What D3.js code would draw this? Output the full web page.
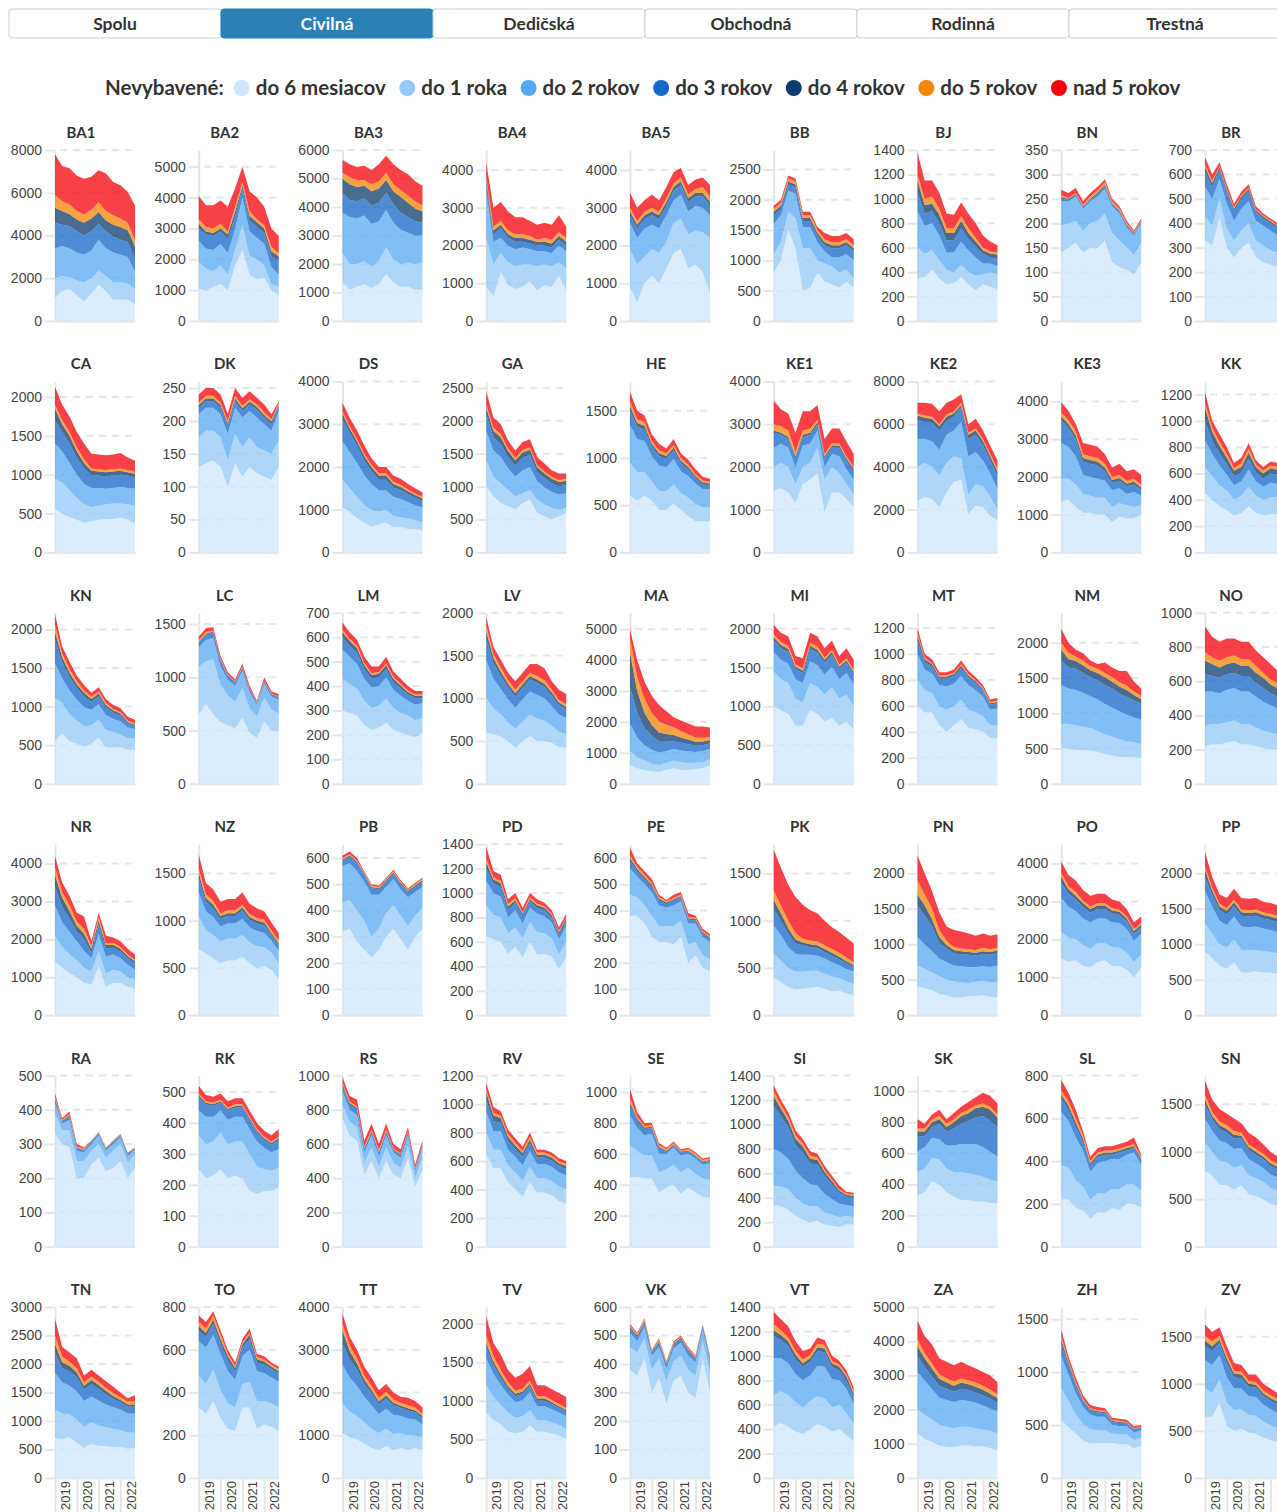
<!DOCTYPE html>
<meta charset="utf-8">
<style>
body { margin: 0; background: #fff; }
svg { display: block; font-family: Lato, "Noto Sans", sans-serif; }
.axis .tick text { fill: #444; font-size: 14px; }
.xaxis .tick text { font-size: 13px; }
.axis path, .axis line { stroke: #e6e6e6; stroke-width: 2px; }
.grid line { stroke: #e6e6e6; stroke-width: 2px; stroke-dasharray: 7,6; }
.title { font-weight: bold; font-size: 15px; fill: #333; text-anchor: middle; }
.tab text { font-weight: bold; font-size: 17.5px; text-anchor: middle; }
</style>
<svg width="1277" height="1512"></svg>
<script src="https://d3js.org/d3.v7.min.js"></script>
<script>

var tabs = ["Spolu", "Civilná", "Dedičská", "Obchodná", "Rodinná", "Trestná"];
var activeTab = "Civilná";

var layerNames = ["do 6 mesiacov", "do 1 roka", "do 2 rokov", "do 3 rokov", "do 4 rokov", "do 5 rokov", "nad 5 rokov"];
var layerColors = ["#cfe6fb", "#93c8f7", "#56a8f2", "#1466c8", "#0d3b6c", "#f58400", "#f5000a"];

var months = ["2019-01", "2019-05", "2019-09", "2020-01", "2020-05", "2020-09",
              "2021-01", "2021-05", "2021-09", "2022-01", "2022-05", "2022-09"];

var courts = ["BA1","BA2","BA3","BA4","BA5","BB","BJ","BN","BR",
              "CA","DK","DS","GA","HE","KE1","KE2","KE3","KK",
              "KN","LC","LM","LV","MA","MI","MT","NM","NO",
              "NR","NZ","PB","PD","PE","PK","PN","PO","PP",
              "RA","RK","RS","RV","SE","SI","SK","SL","SN",
              "TN","TO","TT","TV","VK","VT","ZA","ZH","ZV"];

// top of each panel's y axis
var yTop = [8000,5540,6000,4530,4530,2820,1400,350,700,
            2200,260,4000,2600,1810,4000,8000,4530,1300,
            2215,1606,700,2000,5530,2206,1317,2425,1000,
            4509,1810,653,1400,653,1810,2409,4509,2409,
            500,553,1000,1200,1106,1400,1100,800,1803,
            3000,800,4000,2215,600,1400,5000,1616,1816];

// pending cases by age, one row per court, one value per month above
var do6m = [
  [1100,1400,1500,1200,900,1300,1700,1400,1000,1000,1000,800],
  [1050,1000,1100,1200,1000,1800,2300,1500,1350,1400,1000,850],
  [1350,1100,1200,1300,1150,1300,1650,1350,1200,1200,1100,1100],
  [900,650,1300,950,850,900,1050,800,950,900,1200,800],
  [900,500,1000,1200,1000,1400,1800,1900,1400,1500,1300,750],
  [800,1000,1500,1200,500,550,800,650,600,550,650,550],
  [350,360,420,350,300,310,360,300,250,300,280,260],
  [140,150,160,140,150,150,165,120,110,105,95,120],
  [330,310,420,300,260,300,320,260,240,230,220,210],
  [560,500,450,420,380,400,420,430,430,450,420,370],
  [130,135,140,130,100,135,115,130,120,115,110,130],
  [1050,950,800,700,600,650,700,580,600,550,550,520],
  [1000,850,750,700,650,750,800,600,550,500,550,600],
  [600,550,600,550,450,450,520,450,380,330,330,330],
  [1450,1500,1400,1150,1600,1700,1850,950,1400,1400,1250,1050],
  [2400,2600,2500,2100,2800,3300,3400,1800,2200,2100,1700,1500],
  [1350,1400,1200,1050,1050,1000,1000,800,950,900,900,1000],
  [450,400,350,320,280,300,350,300,280,290,290,280],
  [560,650,550,520,480,520,600,470,470,470,440,440],
  [650,750,650,580,550,520,620,480,430,580,500,490],
  [300,290,280,240,220,230,250,220,210,200,190,210],
  [600,580,550,500,420,500,560,500,500,480,430,420],
  [600,500,450,400,380,450,500,450,450,480,500,600],
  [1000,950,900,750,750,950,900,800,850,750,800,700],
  [600,550,550,450,400,450,500,430,420,400,350,350],
  [500,500,480,480,470,450,420,400,380,380,380,360],
  [220,230,230,240,250,230,230,220,210,200,200,200],
  [1400,1250,1100,1000,850,800,1300,750,850,850,750,700],
  [700,650,600,550,580,580,620,550,500,520,480,380],
  [320,330,280,250,220,250,300,330,290,250,300,330],
  [650,620,600,500,560,470,600,500,500,480,380,470],
  [380,380,350,300,280,280,270,300,200,230,180,170],
  [400,350,300,270,280,290,300,280,250,260,230,210],
  [400,380,350,300,280,250,250,270,270,280,260,250],
  [1500,1400,1450,1300,1250,1400,1450,1300,1300,1200,1000,1250],
  [900,800,700,650,750,600,600,620,600,600,580,570],
  [330,300,290,200,200,240,260,220,230,250,200,230],
  [250,220,230,250,220,230,220,180,170,180,180,190],
  [750,650,620,420,500,400,500,420,400,520,350,450],
  [650,550,550,450,400,350,450,380,380,360,320,300],
  [450,450,440,440,350,380,400,340,380,350,320,320],
  [340,330,300,250,220,200,210,180,170,160,180,180],
  [330,350,420,400,350,320,300,300,290,290,280,280],
  [220,220,180,170,130,160,160,180,170,200,200,180],
  [800,750,650,650,600,650,550,530,500,450,430,400],
  [700,680,720,620,520,600,560,560,540,540,520,520],
  [330,300,360,280,230,220,330,330,230,250,240,220],
  [1050,950,900,800,700,650,750,650,700,650,700,650],
  [850,750,700,600,580,600,680,600,600,580,550,500],
  [380,360,420,300,350,260,340,360,300,280,420,300],
  [420,450,420,380,360,400,440,420,380,400,350,300],
  [1300,1150,1050,950,900,900,950,950,920,920,880,800],
  [550,480,420,350,330,330,330,330,320,320,280,300],
  [650,650,800,550,500,520,480,470,430,400,380,370]
];

var do1r = [
  [900,700,550,700,900,700,650,700,800,800,750,700],
  [850,700,500,600,500,500,800,600,650,400,200,250],
  [1050,900,800,800,750,800,950,800,800,850,900,950],
  [1300,850,500,600,600,600,450,650,550,550,350,600],
  [1000,1000,700,700,800,700,800,800,900,900,1050,1450],
  [300,300,300,500,700,650,200,300,300,250,200,150],
  [250,190,160,150,120,90,100,100,120,80,120,120],
  [55,50,45,45,50,55,55,60,55,45,40,40],
  [100,80,80,80,70,70,80,70,70,60,60,60],
  [390,400,350,280,240,180,180,190,200,180,200,230],
  [45,50,45,45,40,45,45,45,40,40,40,40],
  [650,550,500,400,400,300,300,270,220,250,200,180],
  [400,300,300,250,200,150,150,200,180,180,100,80],
  [350,300,250,200,200,200,200,180,200,180,150,150],
  [550,600,600,450,400,400,600,750,600,450,350,300],
  [1600,1600,1500,1500,1400,1200,1000,900,1000,1000,900,500],
  [600,550,600,500,450,450,450,400,350,350,300,250],
  [200,180,160,150,120,130,150,130,120,130,130,120],
  [550,400,350,300,270,240,230,230,200,170,150,150],
  [450,400,520,350,280,250,280,230,200,230,200,170],
  [130,120,110,100,90,90,100,90,80,80,70,60],
  [400,300,260,220,220,230,250,260,240,200,180,160],
  [450,350,300,250,230,230,250,250,220,200,200,200],
  [450,400,400,350,300,350,350,350,400,350,350,300],
  [200,170,150,150,170,150,150,140,130,120,100,100],
  [350,350,350,330,320,300,280,270,250,220,210,200],
  [120,120,120,120,120,120,120,110,100,100,90,90],
  [700,550,500,450,400,350,400,350,350,300,250,250],
  [350,250,250,230,230,230,230,220,230,200,180,170],
  [110,110,120,110,80,80,90,90,90,90,80,80],
  [250,200,200,170,160,160,160,180,170,150,120,130],
  [80,70,70,80,60,60,70,60,70,50,50,45],
  [250,230,200,190,180,180,170,160,160,130,130,120],
  [300,270,250,250,220,230,210,180,200,200,200,210],
  [700,650,550,550,500,500,450,500,480,450,400,350],
  [400,350,300,300,320,320,320,300,300,290,290,280],
  [60,40,50,50,50,40,40,40,50,50,45,40],
  [110,110,110,120,110,110,120,120,90,70,65,65],
  [80,80,80,70,80,70,80,70,60,70,50,70],
  [150,130,130,120,120,110,110,100,100,100,100,100],
  [200,170,150,150,130,120,130,140,130,120,120,110],
  [160,160,170,150,130,130,120,100,90,80,70,60],
  [150,150,150,160,150,160,180,170,170,160,150,140],
  [160,150,130,110,90,90,90,90,100,90,90,80],
  [300,250,250,240,230,210,200,190,180,170,160,150],
  [500,450,400,400,380,380,360,330,320,300,280,280],
  [150,140,150,130,120,110,110,120,130,110,110,110],
  [700,600,550,500,450,400,400,380,350,350,300,300],
  [350,300,250,250,200,200,200,150,150,140,140,130],
  [80,80,70,80,70,80,70,70,80,80,60,70],
  [260,260,260,240,220,230,230,230,200,200,180,140],
  [700,700,650,600,600,550,550,550,530,500,500,500],
  [300,250,180,160,130,120,120,90,90,90,80,80],
  [300,250,250,250,220,210,190,190,170,160,150,150]
];

var do2r = [
  [1400,1400,1350,1300,1300,1300,1450,1300,1400,1300,1250,800],
  [700,650,700,700,700,700,900,800,700,700,550,400],
  [1400,1650,1600,1600,1500,1400,1300,1300,1200,1050,1000,950],
  [1200,600,400,450,450,450,400,400,350,350,450,450],
  [700,700,750,650,650,700,600,650,600,650,650,600],
  [500,450,350,400,350,350,300,200,150,250,250,300],
  [300,230,220,200,140,160,190,180,150,90,70,70],
  [50,45,50,45,45,50,50,55,55,42,40,40],
  [120,110,80,100,80,90,90,80,80,80,70,65],
  [450,400,350,300,260,250,230,200,200,210,210,220],
  [35,35,35,35,40,40,45,40,45,40,35,45],
  [900,850,800,700,600,500,450,450,430,380,350,350],
  [450,400,400,330,300,350,350,280,260,240,230,220],
  [400,350,330,270,270,250,270,230,230,220,190,190],
  [450,450,450,400,500,450,400,300,300,400,350,350],
  [1300,1100,1200,1200,1300,1200,1700,1800,1500,1200,1100,950],
  [950,850,750,500,500,500,450,450,400,300,400,250],
  [200,170,150,120,110,110,130,110,100,110,100,100],
  [450,320,310,270,240,200,200,190,170,170,140,120],
  [180,200,200,170,150,150,160,150,110,130,120,130],
  [120,110,100,90,85,80,85,75,70,60,65,60],
  [450,350,300,270,250,260,270,280,260,230,200,190],
  [900,650,500,450,400,380,380,380,380,350,350,330],
  [250,250,250,250,250,280,280,260,260,250,280,280],
  [200,160,150,160,180,170,180,190,170,150,120,130],
  [550,500,500,480,450,450,430,410,400,380,350,350],
  [200,190,180,190,190,190,190,180,170,160,150,150],
  [800,650,600,500,450,350,450,450,400,350,330,250],
  [250,200,190,160,160,160,170,160,160,150,130,130],
  [140,140,150,150,160,130,100,100,100,110,90,80],
  [200,180,170,130,140,120,120,150,140,130,120,130],
  [100,80,80,90,80,70,80,75,80,70,70,65],
  [300,270,220,190,180,170,160,160,150,140,130,130],
  [400,350,300,250,250,220,230,230,210,210,220,240],
  [900,800,750,700,700,650,650,650,650,620,570,550],
  [450,380,330,320,320,330,320,330,320,310,300,300],
  [30,20,30,30,25,20,25,20,20,20,20,15],
  [80,90,80,70,80,80,80,80,80,70,60,60],
  [80,70,70,60,70,60,70,60,60,60,40,60],
  [150,130,130,110,110,110,110,100,100,100,100,100],
  [200,150,130,140,120,100,110,110,90,100,90,110],
  [300,280,250,220,210,180,170,150,130,110,90,90],
  [130,140,130,130,150,170,180,190,200,190,180,160],
  [250,220,200,170,130,140,150,140,140,140,150,120],
  [250,220,220,200,200,180,170,160,150,140,140,130],
  [650,550,500,500,450,450,440,400,380,360,330,330],
  [160,170,160,170,150,130,130,150,140,130,120,120],
  [900,800,700,600,550,450,470,450,400,390,370,300],
  [350,300,250,230,200,210,230,180,180,170,160,170],
  [50,40,40,50,40,45,45,45,50,45,40,40],
  [300,270,260,230,220,210,250,260,230,200,200,160],
  [1100,1000,900,800,780,770,780,750,750,700,650,650],
  [300,250,200,160,140,130,130,80,80,80,70,70],
  [300,300,250,270,230,220,200,200,180,170,160,160]
];

var do3r = [
  [1200,1000,1050,1000,900,900,750,800,750,700,700,650],
  [400,450,450,400,450,400,300,350,350,350,350,450],
  [700,600,600,600,650,650,600,650,600,550,500,450],
  [200,200,250,200,200,150,150,150,150,150,150,150],
  [200,250,250,250,250,250,250,250,250,250,300,250],
  [150,100,100,100,100,100,100,100,150,150,150,150],
  [150,100,100,100,100,100,110,90,90,80,50,60],
  [5,3,3,3,3,5,6,4,4,3,3,2],
  [60,50,40,45,40,40,40,35,30,30,30,30],
  [300,250,250,220,200,170,160,160,160,160,160,140],
  [10,10,10,10,12,10,10,10,12,10,10,8],
  [500,450,400,350,300,250,250,220,210,180,180,150],
  [250,200,200,170,170,190,180,140,140,130,120,130],
  [150,130,120,100,100,90,90,80,70,60,50,40],
  [350,200,200,200,200,200,150,200,150,200,200,200],
  [900,800,850,900,650,650,700,800,800,700,600,650],
  [600,500,450,350,350,350,250,200,200,200,200,150],
  [150,100,90,80,70,70,80,70,60,70,70,60],
  [300,200,170,150,140,100,100,100,80,70,50,40],
  [40,50,50,50,30,30,30,25,15,20,20,20],
  [50,45,45,40,35,35,35,30,30,25,25,20],
  [250,180,150,140,130,130,140,140,130,120,110,100],
  [1200,800,550,450,350,300,250,250,230,200,200,180],
  [150,150,150,130,130,160,160,150,150,130,130,130],
  [100,60,50,50,60,60,60,60,55,50,40,40],
  [350,300,300,280,270,270,270,270,250,250,240,220],
  [100,90,90,90,90,90,90,80,80,70,70,70],
  [500,400,350,250,300,150,250,200,180,180,170,160],
  [150,100,90,80,80,80,90,80,80,80,60,60],
  [20,25,30,25,25,20,20,20,20,20,20,20],
  [100,80,80,60,60,60,50,50,50,40,40,40],
  [30,20,20,20,18,15,18,15,15,12,12,12],
  [170,150,140,110,100,80,80,70,70,60,60,50],
  [450,400,350,220,190,170,170,170,160,170,170,170],
  [400,350,300,300,250,250,250,230,220,200,180,170],
  [200,170,150,150,150,150,150,150,140,140,140,140],
  [10,5,10,8,6,5,5,5,5,5,5,2],
  [45,40,35,25,30,30,30,30,30,25,25,30],
  [30,30,30,20,20,20,20,15,15,15,10,10],
  [80,70,60,60,55,60,55,45,45,45,45,45],
  [60,40,40,35,35,15,15,20,15,15,15,15],
  [350,300,260,210,210,170,170,150,120,90,70,70],
  [100,70,70,100,90,110,130,150,170,200,200,190],
  [60,50,50,40,30,30,30,20,30,20,20,20],
  [150,120,120,110,110,100,100,90,90,90,80,80],
  [350,250,250,250,200,220,200,180,150,130,120,120],
  [50,50,50,50,50,40,40,50,40,40,40,40],
  [500,420,380,300,280,220,240,220,190,190,170,150],
  [150,120,100,80,80,80,80,70,70,70,60,60],
  [15,15,15,10,15,12,12,12,15,12,10,10],
  [180,150,140,120,110,110,120,120,100,80,70,60],
  [450,400,370,350,330,300,330,320,300,300,280,250],
  [120,80,70,50,40,40,35,30,30,30,30,25],
  [150,150,130,150,120,110,100,100,90,90,90,80]
];

var do4r = [
  [700,650,550,550,600,600,550,500,550,600,550,550],
  [150,100,100,100,150,150,100,150,150,150,150,150],
  [500,550,500,450,500,500,450,450,550,500,450,400],
  [100,100,100,100,100,100,100,100,100,100,100,100],
  [100,100,100,100,100,100,100,100,100,100,100,100],
  [50,50,50,50,50,50,50,50,50,50,50,50],
  [100,70,60,70,60,60,60,50,40,30,30,35],
  [3,2,2,2,2,3,3,2,2,2,2,2],
  [20,15,10,10,10,10,10,8,8,8,8,7],
  [150,100,100,80,70,50,50,50,50,50,40,50],
  [4,4,4,4,4,4,4,4,4,4,4,2],
  [150,100,100,100,100,100,100,80,70,70,60,60],
  [100,100,100,90,80,80,80,80,70,70,70,60],
  [50,40,40,30,30,30,30,30,25,20,20,20],
  [50,50,50,50,50,50,50,50,50,50,50,50],
  [200,200,200,200,200,150,100,200,200,200,200,200],
  [100,100,100,100,100,100,100,70,70,70,70,70],
  [100,70,60,50,40,40,50,40,40,40,40,40],
  [100,70,60,50,50,40,40,30,30,30,20,15],
  [10,10,10,10,10,5,5,5,5,5,5,5],
  [20,20,20,15,15,15,15,15,12,10,10,10],
  [80,60,50,40,40,40,40,40,40,40,30,30],
  [1100,700,500,350,300,250,200,170,150,130,120,100],
  [40,40,40,30,30,40,40,40,40,30,30,30],
  [40,20,20,15,15,15,20,15,15,10,10,10],
  [150,120,110,110,100,100,110,100,100,100,80,70],
  [80,70,60,60,60,60,60,60,60,50,50,50],
  [300,250,200,150,150,100,100,100,80,70,60,60],
  [50,40,40,30,30,30,30,30,30,30,20,20],
  [5,5,5,5,5,5,5,5,5,5,5,5],
  [50,30,30,30,20,20,20,20,20,20,20,20],
  [10,8,8,7,7,5,5,5,5,5,5,5],
  [100,80,60,40,30,30,30,30,30,30,20,20],
  [150,150,100,80,50,50,40,40,40,40,40,40],
  [150,120,100,100,100,90,90,80,80,80,70,70],
  [100,60,50,50,50,50,50,50,50,50,50,50],
  [3,2,3,2,2,2,2,2,2,2,2,1],
  [5,5,5,5,5,5,5,5,5,5,5,5],
  [10,10,10,5,5,5,5,5,5,5,5,5],
  [50,40,30,30,25,25,25,20,20,20,20,20],
  [20,15,10,10,10,5,5,5,5,5,5,5],
  [80,60,50,50,50,40,40,30,25,20,15,15],
  [30,30,30,30,30,40,50,50,60,60,70,60],
  [20,20,20,15,10,10,10,10,10,10,10,10],
  [50,40,40,40,40,30,30,30,30,30,30,30],
  [150,100,100,80,70,70,70,60,50,40,40,40],
  [20,20,20,20,20,15,15,20,15,15,10,10],
  [300,200,150,100,80,70,70,60,50,50,40,50],
  [50,40,40,30,30,30,30,30,30,20,20,20],
  [5,5,5,4,5,4,5,5,5,5,4,4],
  [50,40,40,40,30,30,30,30,30,30,30,30],
  [300,250,230,200,190,180,180,170,170,160,150,140],
  [40,30,20,15,10,10,10,10,10,5,5,5],
  [60,50,40,50,40,40,30,30,30,30,30,30]
];

var do5r = [
  [600,450,450,400,400,400,450,450,450,400,350,300],
  [150,150,150,150,100,150,100,150,100,100,150,100],
  [200,250,250,200,250,250,250,250,250,250,250,200],
  [100,100,100,100,100,100,100,50,100,100,100,100],
  [100,100,100,100,100,100,100,100,100,100,150,150],
  [50,50,50,50,50,50,50,50,50,50,50,50],
  [50,50,60,50,40,40,40,40,30,20,20,15],
  [5,2,2,3,5,5,5,4,4,3,2,2],
  [10,8,5,5,5,5,5,4,4,4,4,3],
  [50,50,50,50,50,30,30,30,30,30,30,30],
  [4,4,4,4,4,4,4,4,4,4,3,2],
  [50,50,50,50,50,50,50,50,50,40,40,40],
  [50,50,50,40,40,40,40,30,30,30,30,30],
  [50,40,40,30,30,30,30,30,25,20,20,20],
  [150,150,150,100,100,100,50,50,50,50,50,50],
  [100,100,100,100,100,100,100,100,100,100,100,100],
  [100,100,100,100,100,100,100,80,80,80,80,80],
  [40,30,30,30,20,30,30,20,20,20,20,20],
  [100,50,50,40,30,30,30,30,20,20,20,15],
  [20,15,10,10,10,5,10,5,5,5,5,5],
  [10,10,10,10,8,8,8,8,8,7,6,6],
  [70,50,50,40,40,40,40,40,40,30,30,30],
  [450,450,450,400,350,300,250,200,170,140,120,100],
  [40,40,40,30,30,40,40,30,30,30,30,30],
  [20,10,10,10,10,10,10,10,10,10,10,10],
  [100,90,60,70,60,60,60,60,60,60,50,50],
  [50,40,40,40,40,40,40,40,30,30,30,30],
  [200,150,150,120,120,80,80,50,50,50,40,40],
  [50,40,40,30,30,30,30,30,30,30,30,30],
  [5,5,5,5,5,5,5,5,5,5,5,5],
  [30,20,20,20,20,15,15,15,10,10,10,10],
  [10,8,8,8,5,5,5,5,5,5,5,5],
  [100,80,80,70,40,40,40,40,40,40,40,30],
  [200,150,150,100,60,40,40,40,40,50,40,40],
  [100,80,100,70,70,60,60,60,50,50,50,50],
  [50,40,40,40,40,40,40,40,40,40,40,40],
  [5,3,5,3,3,2,2,2,2,2,2,1],
  [5,5,5,5,5,5,5,5,5,5,5,5],
  [10,10,10,10,10,10,10,5,5,5,5,5],
  [20,20,20,20,20,15,20,15,15,15,15,15],
  [30,15,10,10,10,10,10,5,10,10,10,10],
  [40,30,30,30,25,25,20,20,15,10,10,10],
  [20,20,20,20,20,20,20,20,20,20,20,20],
  [20,20,20,15,10,10,10,10,10,10,10,10],
  [50,40,40,40,40,30,30,30,30,30,30,30],
  [150,100,70,70,60,60,60,50,50,50,50,50],
  [20,20,20,20,10,10,10,10,10,10,10,10],
  [150,130,120,100,90,80,90,80,70,70,70,50],
  [100,70,60,50,40,40,40,30,30,30,30,30],
  [5,5,5,3,5,4,4,4,5,4,3,3],
  [50,40,30,30,30,30,30,30,20,20,20,20],
  [200,150,150,130,120,120,120,120,120,120,120,110],
  [30,20,20,15,10,10,10,10,10,5,5,5],
  [50,50,40,40,30,30,30,30,30,30,30,30]
];

var nad5r = [
  [1900,1650,1700,1650,1650,1550,1500,1750,1550,1550,1450,1600],
  [750,700,750,750,800,600,500,650,700,600,600,550],
  [450,450,450,500,500,600,600,700,700,750,700,700],
  [400,500,500,500,450,450,400,400,400,400,450,300],
  [400,350,300,350,300,300,300,250,250,250,250,300],
  [50,50,50,50,50,50,50,100,100,100,100,100],
  [180,150,130,130,120,110,110,120,120,100,80,60],
  [10,10,10,7,7,7,6,5,5,5,3,4],
  [30,27,15,20,15,15,15,13,8,8,8,5],
  [230,200,200,200,200,190,190,190,190,200,160,140],
  [12,12,12,12,11,12,12,12,10,12,8,3],
  [200,200,200,200,150,150,150,150,140,130,120,100],
  [200,150,150,120,110,120,120,120,120,100,100,80],
  [100,90,70,70,70,50,60,50,50,50,40,30],
  [550,400,400,450,450,400,350,350,350,350,350,300],
  [500,600,600,600,550,550,400,400,450,400,400,400],
  [280,250,200,300,300,300,250,250,300,250,250,250],
  [80,50,60,50,40,40,40,30,30,30,30,30],
  [140,90,90,70,70,50,50,50,50,50,50,50],
  [30,35,30,30,20,20,25,25,15,30,20,20],
  [30,25,25,25,27,22,27,22,20,18,14,14],
  [100,80,90,90,100,100,100,140,140,100,120,120],
  [300,550,550,550,540,440,320,350,350,350,360,310],
  [120,120,120,110,130,130,130,120,120,110,130,130],
  [40,30,30,25,25,25,30,25,20,20,20,20],
  [200,140,100,100,80,70,150,140,160,210,140,100],
  [150,120,110,110,100,100,100,90,90,90,70,60],
  [300,250,250,230,330,120,120,200,140,150,150,140],
  [150,120,120,120,120,120,130,110,100,90,80,80],
  [10,10,10,5,5,5,5,5,5,5,5,5],
  [100,50,50,40,40,35,35,35,30,30,30,30],
  [30,14,14,15,10,5,12,10,15,8,8,8],
  [430,400,380,380,360,320,300,260,230,220,210,200],
  [350,300,250,250,200,240,240,220,200,200,190,190],
  [300,300,300,280,280,250,250,230,220,200,180,160],
  [200,150,130,140,150,160,160,160,150,150,150,140],
  [10,5,7,7,4,1,1,1,1,1,1,1],
  [25,20,20,20,20,20,20,20,20,20,20,25],
  [30,30,40,35,35,35,35,25,25,25,20,20],
  [50,40,30,30,30,30,30,20,20,20,20,20],
  [60,30,20,15,15,10,10,10,10,10,10,10],
  [50,40,40,40,35,35,30,30,30,30,15,15],
  [60,30,30,40,30,40,40,50,50,70,70,70],
  [50,40,40,20,20,20,20,20,20,20,30,10],
  [150,130,130,120,130,100,120,120,100,90,80,80],
  [300,170,160,180,120,120,110,120,110,80,60,110],
  [30,30,20,20,20,15,15,20,15,15,10,10],
  [250,200,200,200,200,180,180,160,140,180,150,150],
  [250,170,200,160,170,190,190,140,140,140,140,140],
  [5,5,5,3,5,5,4,4,5,4,3,3],
  [100,90,90,80,70,50,50,40,40,30,30,30],
  [550,500,550,470,480,480,490,440,410,400,420,350],
  [60,40,40,30,30,30,25,20,20,20,20,15],
  [120,100,90,90,80,70,70,80,70,70,60,60]
];

var layers = [do6m, do1r, do2r, do3r, do4r, do5r, nad5r];

var svg = d3.select("svg"),
    width = +svg.attr("width");

// ---- tabs
var tabW = 212, tabX = 9, tabY = 9, tabH = 29;
var tab = svg.append("g").selectAll("g")
    .data(tabs)
    .enter().append("g")
      .attr("class", "tab")
      .attr("transform", function(d, i) { return "translate(" + (tabX + i * tabW) + "," + tabY + ")"; });

tab.append("rect")
    .attr("width", tabW)
    .attr("height", tabH)
    .attr("rx", 3)
    .attr("fill", function(d) { return d === activeTab ? "#2b80b5" : "#fff"; })
    .attr("stroke", function(d) { return d === activeTab ? "#2b80b5" : "#cfcfcf"; });

tab.append("text")
    .attr("x", tabW / 2)
    .attr("y", tabH / 2)
    .attr("dy", "0.35em")
    .attr("fill", function(d) { return d === activeTab ? "#fff" : "#333"; })
    .text(function(d) { return d; });

// ---- legend
var legend = svg.append("g").attr("transform", "translate(105,88)");
var head = legend.append("text")
    .attr("dy", "0.35em")
    .style("font-size", "20.5px")
    .style("font-weight", "bold")
    .attr("fill", "#333")
    .text("Nevybavené:");
var lx = head.node().getComputedTextLength() + 10;
layerNames.forEach(function(n, j) {
  legend.append("circle")
      .attr("cx", lx + 8)
      .attr("r", 8)
      .attr("fill", layerColors[j]);
  var t = legend.append("text")
      .attr("x", lx + 22)
      .attr("dy", "0.35em")
      .style("font-size", "20.5px")
      .style("font-weight", "bold")
      .attr("fill", "#333")
      .text(n);
  lx += 22 + t.node().getComputedTextLength() + 13.5;
});

// ---- small multiples
var colW = 143.75, rowH = 231.4, plotW = 80, plotH = 171;
var parse = d3.timeParse("%Y-%m");
var dates = months.map(parse);

var x = d3.scaleTime()
    .domain(d3.extent(dates))
    .range([0, plotW]);

var stack = d3.stack().keys(d3.range(layers.length));

courts.forEach(function(name, k) {
  var col = k % 9, row = Math.floor(k / 9);
  var px = 10 + col * colW;
  var g = svg.append("g")
      .attr("transform", "translate(" + (px + 45) + "," + (150 + row * rowH) + ")");

  var y = d3.scaleLinear().domain([0, yTop[k]]).range([plotH, 0]);

  var rows = dates.map(function(d, i) {
    var o = {date: d};
    layers.forEach(function(L, j) { o[j] = L[k][i]; });
    return o;
  });

  g.append("text")
      .attr("class", "title")
      .attr("x", 26)
      .attr("y", -12)
      .text(name);

  g.append("g")
      .attr("class", "grid")
    .selectAll("line")
    .data(y.ticks(5).filter(function(v) { return v > 0; }))
    .enter().append("line")
      .attr("x1", 5)
      .attr("x2", plotW)
      .attr("y1", function(v) { return y(v); })
      .attr("y2", function(v) { return y(v); });

  g.append("g")
      .attr("class", "axis")
      .call(d3.axisLeft(y).ticks(5).tickSize(10).tickPadding(3).tickSizeOuter(0)
          .tickFormat(d3.format("d")));

  var xa = g.append("g")
      .attr("class", "axis xaxis")
      .attr("transform", "translate(0," + plotH + ")");

  if (row === 5) {
    xa.call(d3.axisBottom(x).ticks(d3.timeYear).tickSize(36).tickSizeOuter(0)
        .tickFormat(d3.timeFormat("%Y")));
    xa.selectAll("text")
        .attr("x", 0)
        .attr("y", 0)
        .attr("dy", "0.35em")
        .attr("text-anchor", "end")
        .attr("transform", "translate(10,3) rotate(-90)");
  } else {
    xa.call(d3.axisBottom(x).tickValues([]).tickSizeOuter(0));
  }

  var area = d3.area()
      .x(function(d) { return x(d.data.date); })
      .y0(function(d) { return y(d[0]); })
      .y1(function(d) { return y(d[1]); });

  g.append("g")
    .selectAll("path")
    .data(stack(rows))
    .enter().append("path")
      .attr("fill", function(d) { return layerColors[d.key]; })
      .attr("fill-opacity", 0.75)
      .attr("d", area);
});

</script>
